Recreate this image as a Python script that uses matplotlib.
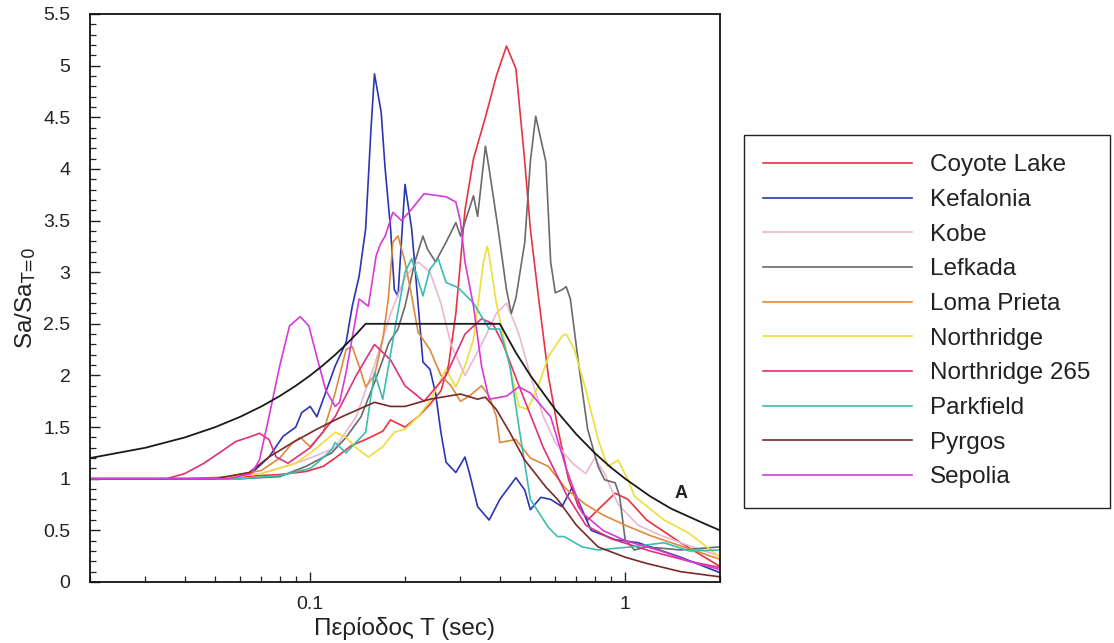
import matplotlib
matplotlib.use("Agg")
import matplotlib.pyplot as plt
from matplotlib.ticker import LogLocator, MultipleLocator, FixedLocator, FixedFormatter, NullFormatter

plt.rcParams['font.family'] = ['Liberation Sans', 'DejaVu Sans']
plt.rcParams['mathtext.default'] = 'regular'

# Normalised response spectra Sa/Sa(T=0) of the records
coyote_T = [0.02, 0.04, 0.06, 0.08, 0.097, 0.11, 0.12, 0.135, 0.15, 0.17, 0.18, 0.2, 0.22, 0.24, 0.26,
            0.275, 0.29, 0.3, 0.31, 0.33, 0.36, 0.39, 0.42, 0.45, 0.48, 0.5, 0.53, 0.57, 0.61, 0.66,
            0.71, 0.76, 0.82, 0.93, 1.02, 1.17, 1.5, 2.0]
coyote_v = [1.0, 1.0, 1.02, 1.04, 1.07, 1.12, 1.2, 1.32, 1.38, 1.46, 1.57, 1.5, 1.6, 1.72, 1.85,
            2.1, 2.6, 3.1, 3.6, 4.1, 4.5, 4.9, 5.19, 4.97, 4.07, 3.42, 2.77, 2.0, 1.5, 1.0,
            0.73, 0.6, 0.7, 0.86, 0.8, 0.6, 0.38, 0.15]

kefalonia_T = [0.02, 0.05, 0.065, 0.074, 0.082, 0.09, 0.094, 0.1, 0.105, 0.11, 0.12, 0.13, 0.136, 0.143,
               0.15, 0.156, 0.16, 0.168, 0.173, 0.18, 0.185, 0.19, 0.2, 0.21, 0.22, 0.228, 0.24, 0.25,
               0.26, 0.27, 0.29, 0.31, 0.32, 0.34, 0.37, 0.4, 0.45, 0.48, 0.5, 0.54, 0.58, 0.63, 0.68,
               0.73, 0.78, 0.93, 1.1, 1.5, 2.0]
kefalonia_v = [1.0, 1.0, 1.05, 1.21, 1.41, 1.5, 1.64, 1.7, 1.6, 1.77, 2.09, 2.32, 2.67, 2.96,
               3.42, 4.39, 4.92, 4.55, 4.0, 3.42, 2.83, 2.77, 3.85, 3.42, 2.7, 2.13, 2.06, 1.83,
               1.45, 1.16, 1.06, 1.21, 1.06, 0.73, 0.6, 0.8, 1.01, 0.89, 0.7, 0.82, 0.8, 0.73, 0.92,
               0.7, 0.5, 0.41, 0.38, 0.24, 0.09]

kobe_T = [0.02, 0.05, 0.07, 0.09, 0.1, 0.12, 0.14, 0.16, 0.18, 0.2, 0.22, 0.24, 0.26, 0.28, 0.31,
          0.35, 0.39, 0.42, 0.46, 0.5, 0.55, 0.6, 0.68, 0.75, 0.8, 0.86, 0.95, 1.1, 1.3, 1.6, 2.0]
kobe_v = [1.0, 1.0, 1.05, 1.15, 1.2, 1.3, 1.6, 2.1, 2.6, 2.95, 3.1, 3.0, 2.7, 2.3, 2.0,
          2.3, 2.6, 2.7, 2.4, 2.0, 1.6, 1.35, 1.15, 1.05, 1.2, 1.05, 0.75, 0.55, 0.45, 0.35, 0.25]

lefkada_T = [0.02, 0.06, 0.08, 0.097, 0.117, 0.13, 0.145, 0.16, 0.178, 0.19, 0.2, 0.215, 0.228, 0.236,
             0.25, 0.27, 0.29, 0.3, 0.33, 0.34, 0.36, 0.37, 0.395, 0.42, 0.435, 0.45, 0.48, 0.5, 0.52,
             0.56, 0.58, 0.6, 0.63, 0.65, 0.67, 0.71, 0.76, 0.82, 0.86, 0.93, 0.96, 1.0, 1.07, 1.17,
             1.5, 2.0]
lefkada_v = [1.0, 1.0, 1.02, 1.12, 1.25, 1.4, 1.6, 1.93, 2.32, 2.45, 2.67, 3.1, 3.35, 3.22,
             3.1, 3.29, 3.48, 3.35, 3.74, 3.54, 4.22, 4.0, 3.42, 2.83, 2.6, 2.75, 3.29, 4.07, 4.51,
             4.07, 3.1, 2.8, 2.83, 2.86, 2.74, 2.13, 1.48, 1.12, 0.99, 0.96, 0.83, 0.41, 0.31, 0.34,
             0.31, 0.34]

loma_T = [0.02, 0.05, 0.07, 0.08, 0.088, 0.093, 0.1, 0.11, 0.12, 0.13, 0.136, 0.143, 0.15, 0.16, 0.17,
          0.177, 0.183, 0.19, 0.2, 0.21, 0.22, 0.24, 0.26, 0.28, 0.3, 0.32, 0.35, 0.37, 0.39, 0.4,
          0.45, 0.5, 0.57, 0.65, 0.75, 0.85, 1.0, 1.2, 1.5, 2.0]
loma_v = [1.0, 1.0, 1.08, 1.2, 1.35, 1.4, 1.31, 1.45, 1.83, 2.25, 2.28, 2.09, 1.89, 2.0, 2.35,
          2.74, 3.29, 3.35, 3.1, 2.77, 2.42, 2.25, 2.0, 1.9, 1.75, 1.8, 1.9, 1.8, 1.6, 1.35,
          1.38, 1.2, 1.12, 0.9, 0.75, 0.65, 0.55, 0.45, 0.35, 0.22]

northridge_T = [0.02, 0.05, 0.07, 0.09, 0.1, 0.11, 0.12, 0.13, 0.14, 0.153, 0.17, 0.185, 0.2, 0.22,
                0.24, 0.27, 0.29, 0.31, 0.33, 0.355, 0.365, 0.37, 0.39, 0.43, 0.46, 0.49, 0.53, 0.57,
                0.63, 0.65, 0.69, 0.75, 0.82, 0.88, 0.95, 1.02, 1.07, 1.33, 1.6, 2.0]
northridge_v = [1.0, 1.0, 1.05, 1.15, 1.25, 1.35, 1.45, 1.4, 1.3, 1.21, 1.31, 1.45, 1.48, 1.6,
                1.75, 2.06, 1.89, 2.09, 2.35, 3.1, 3.25, 3.16, 2.7, 2.09, 1.7, 1.67, 1.9, 2.18,
                2.38, 2.4, 2.25, 1.86, 1.38, 1.12, 1.18, 0.99, 0.83, 0.6, 0.47, 0.24]

northridge265_T = [0.02, 0.035, 0.04, 0.046, 0.052, 0.058, 0.065, 0.069, 0.074, 0.078, 0.085, 0.1, 0.12,
                   0.14, 0.16, 0.18, 0.2, 0.23, 0.27, 0.31, 0.35, 0.38, 0.41, 0.46, 0.55, 0.65, 0.75,
                   0.9, 1.2, 1.6, 2.0]
northridge265_v = [1.0, 1.0, 1.05, 1.15, 1.26, 1.36, 1.41, 1.44, 1.38, 1.21, 1.15, 1.3, 1.6,
                   2.0, 2.3, 2.15, 1.9, 1.75, 2.0, 2.4, 2.55, 2.5, 2.3, 1.9, 1.3, 0.85, 0.55,
                   0.42, 0.3, 0.2, 0.14]

parkfield_T = [0.02, 0.06, 0.08, 0.1, 0.105, 0.117, 0.12, 0.13, 0.15, 0.16, 0.17, 0.185, 0.2, 0.21,
               0.228, 0.24, 0.255, 0.27, 0.295, 0.33, 0.37, 0.4, 0.43, 0.46, 0.5, 0.57, 0.61, 0.64,
               0.73, 0.82, 1.04, 1.33, 1.6, 2.0]
parkfield_v = [1.0, 1.0, 1.03, 1.1, 1.15, 1.28, 1.35, 1.25, 1.45, 2.03, 1.77, 2.42, 3.0, 3.13,
               2.77, 3.03, 3.13, 2.9, 2.85, 2.7, 2.45, 2.45, 2.1, 1.5, 0.8, 0.53, 0.44, 0.44,
               0.34, 0.31, 0.34, 0.38, 0.3, 0.31]

pyrgos_T = [0.02, 0.05, 0.064, 0.074, 0.088, 0.105, 0.126, 0.16, 0.18, 0.2, 0.24, 0.3, 0.34, 0.36,
            0.39, 0.43, 0.48, 0.56, 0.61, 0.7, 0.82, 1.0, 1.17, 1.5, 2.0]
pyrgos_v = [1.0, 1.0, 1.06, 1.21, 1.35, 1.48, 1.6, 1.74, 1.7, 1.7, 1.77, 1.82, 1.77, 1.79,
            1.67, 1.45, 1.18, 0.92, 0.8, 0.55, 0.34, 0.24, 0.18, 0.1, 0.05]

sepolia_T = [0.02, 0.055, 0.065, 0.069, 0.074, 0.08, 0.086, 0.093, 0.099, 0.105, 0.112, 0.12, 0.124,
             0.13, 0.137, 0.143, 0.153, 0.162, 0.167, 0.173, 0.183, 0.195, 0.21, 0.23, 0.27, 0.29,
             0.3, 0.31, 0.33, 0.35, 0.37, 0.42, 0.46, 0.5, 0.58, 0.65, 0.73, 0.85, 1.0, 1.3, 1.6, 2.0]
sepolia_v = [1.0, 1.0, 1.05, 1.18, 1.6, 2.09, 2.48, 2.57, 2.48, 2.18, 1.86, 1.7, 1.74,
             2.03, 2.42, 2.74, 2.67, 3.16, 3.27, 3.35, 3.58, 3.5, 3.61, 3.76, 3.73, 3.68,
             3.49, 3.1, 2.67, 2.09, 1.77, 1.8, 1.89, 1.83, 1.6, 1.1, 0.67, 0.5, 0.4, 0.3, 0.2, 0.12]

# Design spectrum (curve A)
design_T = [0.02, 0.03, 0.04, 0.05, 0.06, 0.07, 0.08, 0.09, 0.1, 0.11, 0.12, 0.13, 0.14, 0.15,
            0.4, 0.45, 0.5, 0.6, 0.7, 0.8, 0.9, 1.0, 1.2, 1.4, 1.6, 1.8, 2.0]
design_v = [1.2, 1.3, 1.4, 1.5, 1.6, 1.7, 1.8, 1.9, 2.0, 2.1, 2.2, 2.3, 2.4, 2.5,
            2.5, 2.22, 2.0, 1.67, 1.43, 1.25, 1.11, 1.0, 0.83, 0.71, 0.63, 0.56, 0.5]

series_names = ["Coyote Lake", "Kefalonia", "Kobe", "Lefkada", "Loma Prieta",
                "Northridge", "Northridge 265", "Parkfield", "Pyrgos", "Sepolia"]
series_T = [coyote_T, kefalonia_T, kobe_T, lefkada_T, loma_T,
            northridge_T, northridge265_T, parkfield_T, pyrgos_T, sepolia_T]
series_v = [coyote_v, kefalonia_v, kobe_v, lefkada_v, loma_v,
            northridge_v, northridge265_v, parkfield_v, pyrgos_v, sepolia_v]
series_colors = ["#e8323e", "#2a36b0", "#ecb6d4", "#6a6a6a", "#de8a3a",
                 "#eedd3a", "#e0307c", "#3cbcb0", "#7a2828", "#d83ad8"]

fig = plt.figure(figsize=(11.14, 6.43), dpi=100)
ax = fig.add_axes([90 / 1114, 1 - 582 / 643, 630 / 1114, 568 / 643])

handles = []
for name, T, v, c in zip(series_names, series_T, series_v, series_colors):
    h, = ax.plot(T, v, color=c, lw=1.2, label=name)
    handles.append(h)

ax.plot(design_T, design_v, color="#1a1a1a", lw=1.3)
ax.text(1.5, 0.86, "A", fontsize=13, fontweight="bold", ha="center", va="center", color="#222222")

ax.set_xscale("log")
ax.set_xlim(0.02, 2.0)
ax.set_ylim(0, 5.5)

ax.xaxis.set_major_locator(FixedLocator([0.1, 1.0]))
ax.xaxis.set_major_formatter(FixedFormatter(["0.1", "1"]))
ax.xaxis.set_minor_locator(LogLocator(base=10, subs=[2, 3, 4, 5, 6, 7, 8, 9]))
ax.xaxis.set_minor_formatter(NullFormatter())
ax.yaxis.set_minor_locator(MultipleLocator(0.1))
ax.set_yticks([0, 0.5, 1, 1.5, 2, 2.5, 3, 3.5, 4, 4.5, 5, 5.5])
ax.set_yticklabels(["0", "0.5", "1", "1.5", "2", "2.5", "3", "3.5", "4", "4.5", "5", "5.5"])

ax.tick_params(which="both", direction="in", top=False, right=False, labelsize=14, colors="#222222")
ax.tick_params(which="major", length=7, width=1.0)
ax.tick_params(which="minor", length=4, width=0.9)
ax.tick_params(axis="y", pad=14)
ax.tick_params(axis="x", pad=10)
for s in ax.spines.values():
    s.set_linewidth(1.3)
    s.set_color("#111111")

ax.set_xlabel("Περίοδος T (sec)", fontsize=17.5, labelpad=3, color="#222222")
ax.set_ylabel(r"Sa/Sa$_{\text{T=0}}$", fontsize=17.5, labelpad=4, color="#222222")

leg = fig.legend(handles=handles, loc="upper left",
                 bbox_to_anchor=(744 / 1114, 1 - 135 / 643), bbox_transform=fig.transFigure,
                 fontsize=17.5, frameon=True, fancybox=False, shadow=False, framealpha=1,
                 edgecolor="#222222", borderaxespad=0, borderpad=0.8, labelspacing=0.52,
                 handlelength=6.1, handletextpad=0.75)
leg.get_frame().set_linewidth(1.0)
for t in leg.get_texts():
    t.set_color("#222222")

fig.savefig("out.png", dpi=100)
